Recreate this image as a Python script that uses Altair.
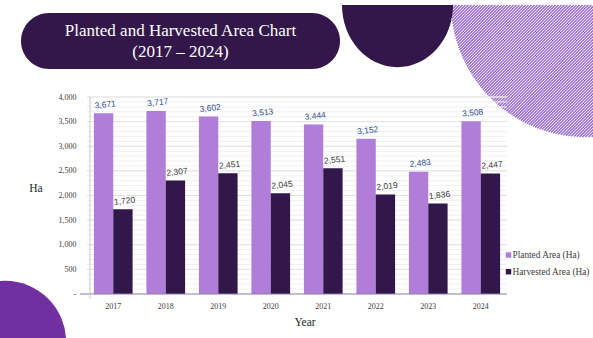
import math
import altair as alt
import pandas as pd

# ---------------- data ----------------
years = ["2017", "2018", "2019", "2020", "2021", "2022", "2023", "2024"]
planted = [3671, 3717, 3602, 3513, 3444, 3152, 2483, 3508]
harvested = [1720, 2307, 2451, 2045, 2551, 2019, 1836, 2447]
series_names = ["Planted Area (Ha)", "Harvested Area (Ha)"]
series_colors = ["#B07DD8", "#32174A"]
y_ticks = [0, 500, 1000, 1500, 2000, 2500, 3000, 3500, 4000]
title_lines = ["Planted and Harvested Area Chart", "(2017 \u2013 2024)"]

rows = []
for i, y in enumerate(years):
    rows.append({"year": y, "series": series_names[0], "value": planted[i]})
    rows.append({"year": y, "series": series_names[1], "value": harvested[i]})
df = pd.DataFrame(rows)

# ---------------- layout (pixels) ----------------
W, H = 593, 338
L, T = 87, 97          # plot origin
PW, PH = 420, 197      # plot size
SERIF = "Liberation Serif"
SANS = "Liberation Sans"

one = pd.DataFrame({"a": [0]})

# hatched circle (decoration) – diagonal stripes clipped to a circle
cx, cy, r, ytop = 585.0, 3.0, 134.0, 5.0
hatch = []
c = cx + cy - r * math.sqrt(2)
while c < cx + cy + r * math.sqrt(2):
    k = c - cx - cy
    disc = 2 * r * r - k * k
    if disc > 0:
        s = math.sqrt(disc)
        x1 = cx + (k - s) / 2
        x2 = cx + (k + s) / 2
        x2 = min(x2, c - ytop, W + 2)
        if x2 > x1:
            hatch.append({"x": x1 - L, "y": (c - x1) - T, "x2": x2 - L, "y2": (c - x2) - T})
    c += 3.0
hatch_df = pd.DataFrame(hatch)

hatch_layer = alt.Chart(hatch_df).mark_rule(color="#9A6FCF", strokeWidth=1.5).encode(
    x=alt.X("x:Q", scale=None, axis=None),
    y=alt.Y("y:Q", scale=None, axis=None),
    x2="x2:Q",
    y2="y2:Q",
)

# dark semi-ellipse at the top
semi = alt.Chart(one).mark_point(
    shape="M-1,0 L1,0 A1,1.12 0 0,1 -1,0 Z",
    filled=True, opacity=1, color="#33174A", size=111 * 111, strokeWidth=0,
).encode(x=alt.value(397.5 - L), y=alt.value(5 - T))

# purple circle bottom-left
circ = alt.Chart(one).mark_point(
    shape="circle", filled=True, opacity=1, color="#7030A0", size=math.pi * 69 * 69, strokeWidth=0,
).encode(x=alt.value(5 - L), y=alt.value(342 - T))

# title pill
pill = alt.Chart(one).mark_rect(color="#33174A", cornerRadius=28).encode(
    x=alt.value(21 - L), x2=alt.value(340 - L), y=alt.value(13 - T), y2=alt.value(69 - T)
)
title1 = alt.Chart(one).mark_text(
    text=title_lines[0], font=SERIF, fontSize=17, color="white", align="center", baseline="alphabetic"
).encode(x=alt.value(180.5 - L), y=alt.value(36 - T))
title2 = alt.Chart(one).mark_text(
    text=title_lines[1], font=SERIF, fontSize=17, color="white", align="center", baseline="alphabetic"
).encode(x=alt.value(180.5 - L), y=alt.value(57 - T))

yscale = alt.Scale(domain=[0, 4000], nice=False, zero=True)

# faint minor gridlines and major gridlines
minor_df = pd.DataFrame({"v": list(range(100, 4001, 100))})
minor = alt.Chart(minor_df).mark_rule(color="#F1F1F1", strokeWidth=1).encode(
    y=alt.Y("v:Q", scale=yscale, axis=None),
    x=alt.value(0), x2=alt.value(PW),
)
major_df = pd.DataFrame({"v": y_ticks[1:]})
major = alt.Chart(major_df).mark_rule(color="#E2E2E2", strokeWidth=1).encode(
    y=alt.Y("v:Q", scale=yscale, axis=None),
    x=alt.value(0), x2=alt.value(PW),
)

xscale = alt.Scale(paddingInner=0.263, paddingOuter=0.1315)
xoff = alt.XOffset("series:N", sort=series_names, scale=alt.Scale(paddingInner=0, paddingOuter=0))

x_axis = alt.Axis(labelAngle=0, labelFont=SERIF, labelFontSize=8, labelColor="#404040",
                  ticks=False, domain=False, labelPadding=8, grid=False)
y_axis = alt.Axis(values=y_ticks, labelFont=SERIF, labelFontSize=8, labelColor="#404040",
                  ticks=False, domain=False, grid=False, labelPadding=11, labelOverlap=False,
                  labelExpr="datum.value == 0 ? '-' : format(datum.value, ',')")

bars = alt.Chart(df).mark_bar().encode(
    x=alt.X("year:N", sort=years, scale=xscale, title=None, axis=x_axis),
    xOffset=xoff,
    y=alt.Y("value:Q", scale=yscale, title=None, axis=y_axis),
    color=alt.Color("series:N", sort=series_names,
                    scale=alt.Scale(domain=series_names, range=series_colors),
                    legend=None),
)

labels = alt.Chart(df).mark_text(
    font=SANS, fontSize=8.5, baseline="middle", align="center", dx=2.5, dy=-8.5, angle=354,
).encode(
    x=alt.X("year:N", sort=years, scale=xscale, title=None, axis=x_axis),
    xOffset=xoff,
    y=alt.Y("value:Q", scale=yscale, title=None, axis=y_axis),
    text=alt.Text("value:Q", format=","),
    color=alt.condition(alt.datum.series == series_names[0], alt.value("#2E5090"), alt.value("#404040")),
)

data_layer = alt.layer(bars, labels)

# manual legend
legend_layers = []
for i, (nm, col) in enumerate(zip(series_names, series_colors)):
    ly = 255 + i * 16.7 - T
    legend_layers.append(
        alt.Chart(one).mark_point(shape="square", filled=True, opacity=1, color=col, size=30, strokeWidth=0)
        .encode(x=alt.value(508.5 - L), y=alt.value(ly))
    )
    legend_layers.append(
        alt.Chart(one).mark_text(text=nm, font=SERIF, fontSize=9.3, color="#404040",
                                 align="left", baseline="middle")
        .encode(x=alt.value(512.5 - L), y=alt.value(ly))
    )

zero_line = alt.Chart(one).mark_rule(color="#8A7BA6", strokeWidth=1).encode(
    x=alt.value(80 - L), x2=alt.value(PW), y=alt.value(PH), y2=alt.value(PH)
)
vaxis = alt.Chart(one).mark_rule(color="#C8C8C8", strokeWidth=1).encode(
    x=alt.value(90 - L), x2=alt.value(90 - L), y=alt.value(0), y2=alt.value(PH + 5)
)

ha = alt.Chart(one).mark_text(text="Ha", font=SERIF, fontSize=11.5, color="#262626",
                              align="center", baseline="middle").encode(
    x=alt.value(36 - L), y=alt.value(189 - T))
year_t = alt.Chart(one).mark_text(text="Year", font=SERIF, fontSize=11.5, color="#262626",
                                  align="center", baseline="middle").encode(
    x=alt.value(305 - L), y=alt.value(323 - T))

chart = alt.layer(
    hatch_layer, semi, circ, pill, title1, title2, minor, major, data_layer,
    zero_line, vaxis, ha, year_t, *legend_layers,
).resolve_scale(x="independent", y="independent", color="independent").properties(
    width=PW, height=PH,
    autosize=alt.AutoSizeParams(type="none"),
    padding={"left": L, "top": T, "right": W - L - PW, "bottom": H - T - PH},
    background="white",
).configure_view(stroke=None)

chart.save("out.html", embed_options={"renderer": "svg", "actions": False})
